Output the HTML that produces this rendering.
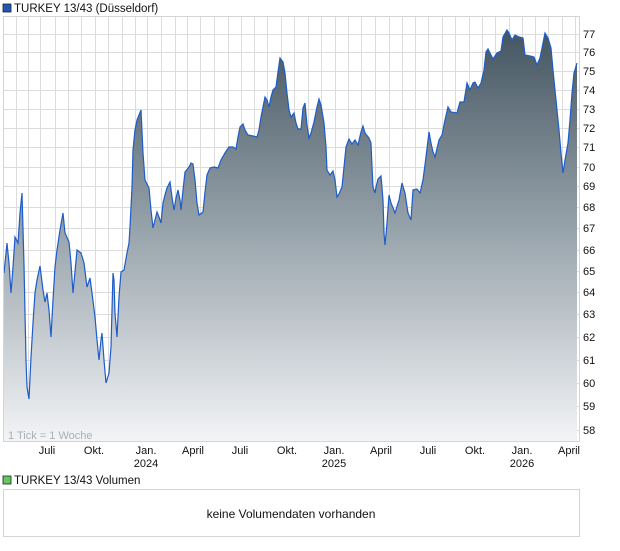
<!DOCTYPE html>
<html><head><meta charset="utf-8"><style>
body{margin:0;background:#fff;width:620px;height:546px;overflow:hidden;font-family:"Liberation Sans",Arial,sans-serif}
</style></head><body>
<svg width="620" height="546" xmlns="http://www.w3.org/2000/svg" font-family="Liberation Sans, Arial, sans-serif">
<defs><linearGradient id="g" x1="0" y1="17" x2="0" y2="441" gradientUnits="userSpaceOnUse">
<stop offset="0" stop-color="#3f505c"/><stop offset="0.5" stop-color="#97a3ab"/><stop offset="1" stop-color="#f3f4f6"/></linearGradient></defs>
<rect x="3" y="4" width="8" height="8" fill="#1f56b8" stroke="#222" stroke-width="0.8"/>
<text x="14" y="12" font-size="11.5" fill="#111">TURKEY 13/43 (Düsseldorf)</text>
<rect x="3.5" y="16.5" width="576" height="425" fill="#fff" stroke="#d4d4d4"/>
<g stroke="#dcdcdc" stroke-width="1">
<path d="M3 34.5H579M3 52.5H579M3 71.5H579M3 90.5H579M3 109.5H579M3 128.5H579M3 147.5H579M3 167.5H579M3 186.5H579M3 207.5H579M3 228.5H579M3 250.5H579M3 271.5H579M3 292.5H579M3 314.5H579M3 337.5H579M3 360.5H579M3 383.5H579M3 406.5H579M3 430.5H579"/>
<path d="M16.5 17V441M28.5 17V441M40.5 17V441M55.5 17V441M68.5 17V441M81.5 17V441M95.5 17V441M108.5 17V441M122.5 17V441M135.5 17V441M147.5 17V441M161.5 17V441M175.5 17V441M187.5 17V441M200.5 17V441M214.5 17V441M228.5 17V441M241.5 17V441M254.5 17V441M267.5 17V441M281.5 17V441M294.5 17V441M308.5 17V441M321.5 17V441M335.5 17V441M348.5 17V441M361.5 17V441M375.5 17V441M389.5 17V441M402.5 17V441M415.5 17V441M428.5 17V441M442.5 17V441M455.5 17V441M469.5 17V441M482.5 17V441M495.5 17V441M509.5 17V441M522.5 17V441M535.5 17V441M548.5 17V441M562.5 17V441M575.5 17V441"/>
</g>
<path id="p" d="M4 273L6 253L7 243L9 263L11 293L13 267L15 237L18 243L20 213L22 193L24 265L25 313L26 360L27 387L29 399L31 357L33 323L35 293L37 280L40 266L43 290L45 302L47 293L49 310L51 337L53 300L55 267L57 250L60 230L63 213L65 233L69 242L71 263L73 293L77 250L81 253L84 263L87 287L90 278L92 293L95 317L97 340L99 360L101 340L102 333L104 360L106 383L109 373L111 347L113 273L114 280L115 313L117 337L119 297L121 272L124 270L127 253L129 243L130 227L132 187L133 150L135 130L137 120L139 115L141 110L143 153L145 180L149 188L151 210L153 228L155 220L157 212L159 217L161 223L163 203L165 195L167 188L170 182L172 197L174 210L176 198L178 190L180 200L181 210L183 190L185 172L189 167L191 163L193 164L195 180L197 203L199 215L203 212L205 192L207 175L210 168L214 167L218 168L221 160L225 153L229 147L233 147L236 149L238 137L240 127L243 124L245 130L248 135L253 136L257 137L259 130L261 117L263 107L265 97L267 100L269 107L271 97L273 90L276 87L278 72L280 58L283 62L285 73L287 93L289 110L291 117L294 113L296 123L298 129L301 129L303 108L305 103L307 125L309 138L311 133L314 122L317 107L319 99L321 105L324 123L326 147L327 170L330 175L333 171L335 180L337 197L339 194L342 187L344 167L346 147L349 139L352 144L355 140L358 145L361 132L363 126L365 133L369 138L371 143L372 167L373 187L375 193L376 187L378 179L381 176L383 200L384 233L385 245L387 223L389 195L391 203L395 213L399 200L402 183L405 193L408 213L411 220L413 190L417 189L420 193L423 180L426 157L429 132L431 143L433 152L435 157L439 140L442 135L445 120L448 107L451 112L457 113L460 102L464 102L467 83L470 90L473 83L475 82L478 88L481 83L484 70L486 52L488 49L490 53L493 59L497 53L501 51L503 37L507 30L509 33L512 40L515 35L519 37L523 38L525 55L530 56L534 57L537 65L540 58L543 43L545 33L548 38L551 48L553 70L556 100L559 130L561 153L563 173L565 160L568 143L570 120L572 93L574 73L577 63" fill="none"/>
<path d="M4 273L6 253L7 243L9 263L11 293L13 267L15 237L18 243L20 213L22 193L24 265L25 313L26 360L27 387L29 399L31 357L33 323L35 293L37 280L40 266L43 290L45 302L47 293L49 310L51 337L53 300L55 267L57 250L60 230L63 213L65 233L69 242L71 263L73 293L77 250L81 253L84 263L87 287L90 278L92 293L95 317L97 340L99 360L101 340L102 333L104 360L106 383L109 373L111 347L113 273L114 280L115 313L117 337L119 297L121 272L124 270L127 253L129 243L130 227L132 187L133 150L135 130L137 120L139 115L141 110L143 153L145 180L149 188L151 210L153 228L155 220L157 212L159 217L161 223L163 203L165 195L167 188L170 182L172 197L174 210L176 198L178 190L180 200L181 210L183 190L185 172L189 167L191 163L193 164L195 180L197 203L199 215L203 212L205 192L207 175L210 168L214 167L218 168L221 160L225 153L229 147L233 147L236 149L238 137L240 127L243 124L245 130L248 135L253 136L257 137L259 130L261 117L263 107L265 97L267 100L269 107L271 97L273 90L276 87L278 72L280 58L283 62L285 73L287 93L289 110L291 117L294 113L296 123L298 129L301 129L303 108L305 103L307 125L309 138L311 133L314 122L317 107L319 99L321 105L324 123L326 147L327 170L330 175L333 171L335 180L337 197L339 194L342 187L344 167L346 147L349 139L352 144L355 140L358 145L361 132L363 126L365 133L369 138L371 143L372 167L373 187L375 193L376 187L378 179L381 176L383 200L384 233L385 245L387 223L389 195L391 203L395 213L399 200L402 183L405 193L408 213L411 220L413 190L417 189L420 193L423 180L426 157L429 132L431 143L433 152L435 157L439 140L442 135L445 120L448 107L451 112L457 113L460 102L464 102L467 83L470 90L473 83L475 82L478 88L481 83L484 70L486 52L488 49L490 53L493 59L497 53L501 51L503 37L507 30L509 33L512 40L515 35L519 37L523 38L525 55L530 56L534 57L537 65L540 58L543 43L545 33L548 38L551 48L553 70L556 100L559 130L561 153L563 173L565 160L568 143L570 120L572 93L574 73L577 63L577 441L4 441Z" fill="url(#g)"/>
<use href="#p" stroke="#1d5cc9" stroke-width="1.2"/>
<rect x="3.5" y="16.5" width="576" height="425" fill="none" stroke="#d4d4d4"/>
<text x="8" y="439" font-size="11" fill="#aab0b8">1 Tick = 1 Woche</text>
<g font-size="11" fill="#111">
<text x="583" y="38">77</text><text x="583" y="56">76</text><text x="583" y="75">75</text><text x="583" y="94">74</text><text x="583" y="113">73</text><text x="583" y="132">72</text><text x="583" y="151">71</text><text x="583" y="171">70</text><text x="583" y="190">69</text><text x="583" y="211">68</text><text x="583" y="232">67</text><text x="583" y="254">66</text><text x="583" y="275">65</text><text x="583" y="296">64</text><text x="583" y="318">63</text><text x="583" y="341">62</text><text x="583" y="364">61</text><text x="583" y="387">60</text><text x="583" y="410">59</text><text x="583" y="434">58</text>
</g>
<g font-size="11" fill="#111" text-anchor="middle">
<text x="47" y="454">Juli</text><text x="94" y="454">Okt.</text><text x="146" y="454">Jan.</text><text x="146" y="467">2024</text><text x="193" y="454">April</text><text x="240" y="454">Juli</text><text x="287" y="454">Okt.</text><text x="334" y="454">Jan.</text><text x="334" y="467">2025</text><text x="381" y="454">April</text><text x="428" y="454">Juli</text><text x="475" y="454">Okt.</text><text x="522" y="454">Jan.</text><text x="522" y="467">2026</text><text x="569" y="454">April</text>
</g>
<rect x="3" y="476" width="8" height="8" fill="#5fc95f" stroke="#222" stroke-width="0.8"/>
<text x="14" y="484" font-size="11.5" fill="#111">TURKEY 13/43 Volumen</text>
<rect x="3.5" y="489.5" width="576" height="47" fill="#fff" stroke="#d4d4d4"/>
<text x="291" y="518" font-size="12" fill="#111" text-anchor="middle">keine Volumendaten vorhanden</text>
</svg>
</body></html>
